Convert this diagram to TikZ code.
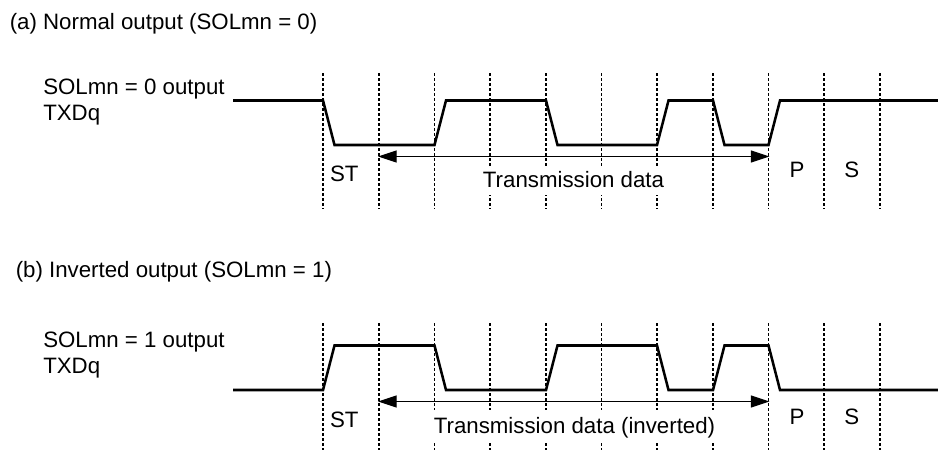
\documentclass[tikz,border=0pt]{standalone}
\usepackage{fontspec}
\setmainfont{Liberation Sans}
\usetikzlibrary{arrows.meta}
\tikzset{
  lbl/.style={inner sep=0pt,anchor=base west,align=left,font=\fontsize{16.7}{19.5}\selectfont},
  celllbl/.style={inner sep=0pt,anchor=base,font=\fontsize{16.7}{19.5}\selectfont},
  datalbl/.style={celllbl,fill=white,inner xsep=1pt,text depth=6pt},
  wave/.style={line width=1.9pt,line join=miter},
  gridline/.style={line width=1pt,dash pattern=on 2pt off 1.75pt},
  spanarrow/.style={{Triangle[length=14pt,width=9pt]}-{Triangle[length=14pt,width=9pt]},line width=0.9pt}
}
\begin{document}
\begin{tikzpicture}[x=0.75pt,y=-0.75pt]
  \useasboundingbox (0,0) rectangle (938,450);
  % cell boundaries
  \foreach \xpos in {323,379,434.5,490,546,601.5,657,713,768.5,824,880} {
    \draw[gridline] (\xpos,73) -- (\xpos,209);
    \draw[gridline] (\xpos,323) -- (\xpos,450);
  }
  % normal output
  \node[lbl] (titleA) at (9.5,29) {(a) Normal output (SOLmn = 0)};
  \node[lbl] (nameA) at (43,120) {SOLmn = 0 output\\TXDq};
  \draw[wave] (233,100.5) -- (323,100.5) -- (334.5,145) -- (434.5,145) -- (446,100.5) -- (546,100.5)
    -- (557.5,145) -- (657,145) -- (668.5,100.5) -- (713,100.5) -- (724.5,145) -- (768.5,145)
    -- (780,100.5) -- (938,100.5);
  \coordinate (arrAl) at (378,156.5);
  \coordinate (arrAr) at (769.5,156.5);
  \draw[spanarrow] (arrAl) -- (arrAr);
  \node[celllbl] (stA) at (344.3,181.7) {ST};
  \node[datalbl,text height=15pt] (dataA) at (573.5,187.3) {Transmission data};
  \node[celllbl] (pA) at (797,177.3) {P};
  \node[celllbl] (sA) at (851.7,177.3) {S};
  % inverted output
  \node[lbl] (titleB) at (15.5,277.7) {(b) Inverted output (SOLmn = 1)};
  \node[lbl] (nameB) at (43,373.3) {SOLmn = 1 output\\TXDq};
  \draw[wave] (233,390) -- (323,390) -- (334.5,345.5) -- (434.5,345.5) -- (446,390) -- (546,390)
    -- (557.5,345.5) -- (657,345.5) -- (668.5,390) -- (713,390) -- (724.5,345.5) -- (768.5,345.5)
    -- (780,390) -- (938,390);
  \coordinate (arrBl) at (378,401.5);
  \coordinate (arrBr) at (769.5,401.5);
  \draw[spanarrow] (arrBl) -- (arrBr);
  \node[celllbl] (stB) at (344.3,427.7) {ST};
  \node[datalbl,text height=17pt] (dataB) at (574.5,433) {Transmission data (inverted)};
  \node[celllbl] (pB) at (797,424) {P};
  \node[celllbl] (sB) at (851.7,424) {S};
\end{tikzpicture}
\end{document}
